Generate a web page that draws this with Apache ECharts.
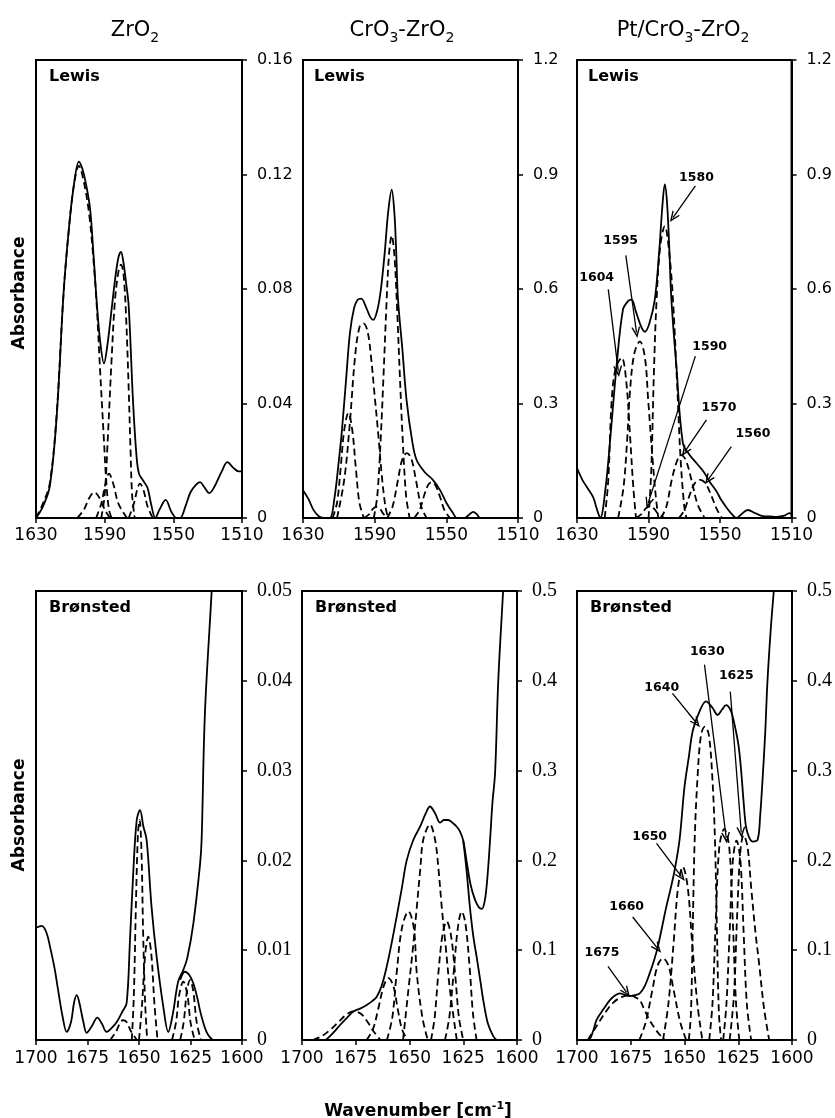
<!DOCTYPE html>
<html lang="en">
<head>
  <meta charset="UTF-8">
  <title>IR pyridine deconvolution</title>
  <script src="https://cdn.jsdelivr.net/npm/echarts@6/dist/echarts.min.js"></script>
</head>
<body style="margin:0;background:#fff">
  <div id="main" style="width:835px;height:1118px;"></div>
  <script type="text/javascript">
    // ---- data: [wavenumber, absorbance] ----
    // top row: Lewis band region
    const zrLewis = [[1630,0],[1626,0.004],[1622,0.011],[1618,0.035],[1614,0.078],[1611,0.1],[1608,0.116],[1605,0.1245],[1603,0.122],[1601,0.117],[1598.5,0.108],[1596.5,0.092],[1594.7,0.076],[1592.5,0.061],[1590.4,0.054],[1588.5,0.06],[1586.5,0.07],[1584,0.083],[1582,0.091],[1580.5,0.093],[1579,0.089],[1577.5,0.082],[1576,0.074],[1573.5,0.041],[1571.5,0.022],[1570,0.0155],[1567.5,0.013],[1565,0.0105],[1563,0.005],[1560.5,0],[1558,0.003],[1554.5,0.0063],[1551,0.002],[1548,0],[1546,0],[1543,0.004],[1540,0.009],[1537,0.0115],[1534.5,0.0125],[1532,0.0108],[1529,0.0087],[1526,0.011],[1522,0.016],[1518.5,0.0195],[1515,0.0175],[1512,0.0163],[1510,0.0163]]
    const zrLewisPeaks = [
      [[1630,0],[1626,0.005],[1622,0.012],[1618,0.036],[1614,0.078],[1611,0.1],[1608,0.116],[1605,0.123],[1602,0.117],[1599,0.106],[1596.5,0.09],[1594.7,0.075],[1592.7,0.052],[1590.5,0.028],[1589,0.012],[1587.5,0.003],[1586,0]],
      [[1592,0],[1590,0.008],[1588,0.03],[1586,0.055],[1584,0.076],[1582,0.086],[1580.5,0.0885],[1579,0.085],[1577.5,0.07],[1576,0.045],[1575,0.025],[1574,0.008],[1572.5,0]],
      [[1606,0],[1602,0.003],[1599,0.007],[1596,0.009],[1593,0.007],[1590,0.003],[1587,0]],
      [[1595,0],[1592,0.005],[1589.5,0.012],[1587.5,0.0155],[1585,0.012],[1582,0.005],[1577,0]],
      [[1576,0],[1573,0.005],[1571,0.01],[1569.5,0.012],[1567.5,0.01],[1565,0.004],[1562,0]]
    ]

    const crLewis = [[1630,0.073],[1627,0.05],[1624,0.02],[1621,0.004],[1618,0],[1615,0],[1612.5,0.05],[1610,0.15],[1608.4,0.223],[1606,0.36],[1603.8,0.485],[1601.5,0.55],[1599.5,0.572],[1597.5,0.575],[1594.6,0.55],[1592.5,0.527],[1590.8,0.519],[1588.5,0.545],[1586.5,0.6],[1584.3,0.7],[1582.5,0.8],[1580.5,0.86],[1579,0.8],[1578,0.7],[1577,0.575],[1574.5,0.44],[1572.2,0.309],[1569,0.2],[1566.6,0.152],[1562,0.12],[1557.5,0.1],[1553.5,0.073],[1550,0.04],[1546.3,0.013],[1544,0],[1540,0],[1537,0.01],[1535,0.016],[1533,0.01],[1531,0],[1510,0]]
    const crLewisPeaks = [
      [[1613.5,0],[1611,0.04],[1609,0.13],[1607,0.23],[1604.7,0.275],[1602.5,0.23],[1600.5,0.13],[1598.5,0.04],[1596,0]],
      [[1611,0],[1607,0.1],[1604,0.24],[1601,0.42],[1598.5,0.5],[1596.3,0.51],[1594,0.49],[1592,0.42],[1590,0.32],[1588,0.22],[1586,0.11],[1584,0.03],[1582.5,0]],
      [[1590.5,0],[1588.5,0.06],[1586.5,0.22],[1585,0.38],[1583.5,0.55],[1582,0.69],[1580.5,0.74],[1579,0.69],[1577.5,0.55],[1576,0.38],[1574.5,0.22],[1572.5,0.06],[1570.5,0]],
      [[1583,0],[1580,0.03],[1577,0.1],[1574.5,0.155],[1572,0.17],[1569.5,0.155],[1567,0.1],[1564,0.03],[1561,0]],
      [[1568,0],[1565,0.02],[1562,0.065],[1560,0.088],[1558.2,0.094],[1556,0.085],[1553.5,0.055],[1551,0.02],[1548,0]],
      [[1596,0],[1593,0.01],[1591,0.024],[1589,0.029],[1587,0.024],[1585,0.01],[1582,0]]
    ]

    const ptLewis = [[1630,0.131],[1627,0.1],[1624.6,0.082],[1621,0.055],[1619,0.025],[1617,0],[1614,0.08],[1611.6,0.197],[1607.9,0.397],[1604.3,0.546],[1601.5,0.568],[1599.5,0.572],[1597,0.54],[1594,0.5],[1592,0.488],[1589.5,0.51],[1586.5,0.572],[1584,0.7],[1582.2,0.82],[1580.9,0.874],[1579.7,0.83],[1578.5,0.72],[1577.2,0.572],[1574.4,0.397],[1570.8,0.197],[1567,0.165],[1563.2,0.144],[1559,0.12],[1555.8,0.095],[1552,0.07],[1549.3,0.047],[1546,0.025],[1543,0.008],[1541,0],[1538,0.01],[1534.5,0.021],[1530,0.012],[1526,0.005],[1522,0.004],[1518.4,0.003],[1514,0.006],[1511.3,0.013],[1510,0.01]]
    const ptLewisPeaks = [
      [[1614.5,0],[1612.5,0.1],[1610.7,0.3],[1608.5,0.39],[1605,0.42],[1602.5,0.36],[1600.4,0.22],[1598.5,0.08],[1597,0]],
      [[1607,0],[1604,0.08],[1602,0.2],[1600.4,0.33],[1598,0.43],[1594.8,0.463],[1592,0.42],[1590.2,0.31],[1588,0.17],[1586,0.06],[1584.5,0]],
      [[1590,0],[1588.5,0.12],[1587,0.38],[1585.5,0.57],[1583.5,0.71],[1580.9,0.765],[1578.5,0.7],[1576.3,0.57],[1574,0.35],[1572,0.15],[1570,0.03],[1568.8,0]],
      [[1597,0],[1594,0.01],[1591.5,0.025],[1589.3,0.03],[1587,0.025],[1584.5,0.01],[1581,0]],
      [[1583,0],[1580,0.03],[1577,0.1],[1574,0.15],[1571.6,0.165],[1569,0.15],[1566,0.1],[1562.5,0.035],[1558.5,0]],
      [[1573,0],[1570,0.02],[1567,0.06],[1564,0.092],[1561,0.1],[1558,0.09],[1555,0.06],[1552,0.025],[1549,0]]
    ]

    // bottom row: Brønsted band region (measured spectrum, fitted envelope tail, components)
    const zrBronsted = [[1700,0.0125],[1697.2,0.0127],[1695,0.012],[1693.2,0.0104],[1691,0.008],[1689.3,0.0056],[1687,0.0025],[1685.1,0.0009],[1683,0.002],[1681.5,0.0042],[1680.2,0.005],[1679,0.0042],[1677,0.002],[1675.4,0.0008],[1673,0.0015],[1670.2,0.0025],[1668,0.0018],[1665.7,0.0009],[1663,0.0014],[1660.8,0.002],[1658,0.0032],[1656,0.0041],[1654.4,0.011],[1652.8,0.0186],[1651.1,0.0245],[1649.5,0.0256],[1647.9,0.0238],[1646.3,0.0223],[1643.9,0.0148],[1641.4,0.0092],[1638.2,0.0037],[1635.8,0.0009],[1633.5,0.003],[1631,0.0065],[1628.5,0.0078],[1626.5,0.0092],[1623.6,0.013],[1620.4,0.0195],[1619.6,0.0223],[1618,0.0364],[1614.7,0.0501],[1613.5,0.056]]
    const zrBronstedFit = [[1630,0.0067],[1627.7,0.0076],[1625.5,0.0072],[1623.6,0.0063],[1621.5,0.0045],[1620.4,0.0033],[1618.5,0.0017],[1617,0.0008],[1615.5,0.0003],[1614,0]]
    const zrBronstedPeaks = [
      [[1653.5,0],[1652.5,0.005],[1651.5,0.015],[1650.5,0.023],[1649.7,0.0245],[1648.8,0.021],[1648,0.012],[1647,0.004],[1646,0]],
      [[1650,0],[1648.5,0.004],[1647,0.0095],[1645.5,0.0115],[1644,0.0095],[1642.5,0.004],[1641,0]],
      [[1664,0],[1661,0.001],[1659,0.002],[1657.8,0.0022],[1656,0.002],[1654,0.001],[1651,0]],
      [[1634,0],[1632,0.002],[1630.5,0.005],[1628.5,0.0065],[1626.5,0.005],[1625,0.002],[1623,0]],
      [[1630,0],[1628.3,0.002],[1626.7,0.0055],[1625.2,0.0067],[1623.7,0.0055],[1622,0.002],[1620,0]]
    ]

    const crBronsted = [[1700,0],[1690,0],[1688.5,0.001],[1685.5,0.008],[1682.3,0.0167],[1679,0.025],[1676.1,0.0316],[1673,0.035],[1669.9,0.039],[1667.5,0.043],[1665.3,0.048],[1663,0.06],[1660.6,0.0817],[1658.3,0.108],[1656,0.137],[1653.5,0.17],[1651.3,0.2],[1648.2,0.223],[1645.1,0.2375],[1642.5,0.252],[1640.5,0.26],[1638,0.252],[1635.8,0.242],[1634,0.245],[1632,0.245],[1630,0.242],[1628,0.2375],[1626.5,0.232],[1625,0.222],[1623.5,0.2],[1621.5,0.172],[1619.5,0.156],[1617.8,0.148],[1616.4,0.146],[1615,0.155],[1613.8,0.18],[1612.6,0.22],[1611.4,0.265],[1610.2,0.297],[1608.7,0.401],[1606.4,0.503],[1605.5,0.55]]
    const crBronstedFit = [[1625,0.222],[1623.5,0.19],[1621.9,0.148],[1620.3,0.115],[1618.8,0.093],[1617,0.065],[1615.7,0.0445],[1613.5,0.018],[1611,0.004],[1609.5,0]]
    const crBronstedPeaks = [
      [[1695,0],[1691,0.004],[1687,0.011],[1683,0.02],[1679.5,0.028],[1676,0.032],[1672.5,0.029],[1669.5,0.02],[1666.5,0.009],[1663.5,0]],
      [[1670,0],[1667,0.012],[1664.5,0.035],[1662,0.06],[1659.8,0.069],[1657.5,0.06],[1655.5,0.035],[1653.5,0.012],[1651,0]],
      [[1660.5,0],[1658,0.025],[1656,0.074],[1653.5,0.125],[1650.5,0.143],[1648,0.125],[1646.6,0.074],[1644,0.025],[1641.5,0]],
      [[1653,0],[1650.5,0.056],[1648.5,0.1],[1646.6,0.148],[1645,0.19],[1643.6,0.223],[1640.5,0.24],[1638.1,0.223],[1636.5,0.19],[1635,0.148],[1633,0.1],[1631.2,0.056],[1628,0]],
      [[1640,0],[1638.3,0.025],[1636.6,0.074],[1634.6,0.118],[1632.7,0.132],[1630.8,0.118],[1628.8,0.074],[1627,0.025],[1625,0]],
      [[1633.5,0],[1631.5,0.025],[1629.5,0.074],[1627.5,0.125],[1625.7,0.143],[1624,0.13],[1622,0.08],[1620.5,0.03],[1618.8,0]]
    ]

    const ptBronsted = [[1700,0],[1694.8,0],[1692.5,0.01],[1690.9,0.0223],[1687.5,0.035],[1684.7,0.0445],[1682,0.05],[1680.1,0.052],[1677.5,0.05],[1675.5,0.049],[1673,0.05],[1670.8,0.052],[1668.5,0.06],[1666.2,0.0742],[1664,0.09],[1662.4,0.104],[1660.5,0.125],[1658.5,0.148],[1656.5,0.168],[1654.6,0.189],[1652.3,0.223],[1650,0.282],[1648,0.315],[1646.1,0.345],[1643,0.366],[1640,0.377],[1637,0.37],[1634.6,0.362],[1632.5,0.368],[1630.7,0.373],[1628.5,0.367],[1626.9,0.353],[1625,0.33],[1623.8,0.304],[1622.5,0.265],[1621.4,0.2375],[1620,0.226],[1618.4,0.221],[1616,0.223],[1614.8,0.25],[1613.7,0.29],[1612.5,0.34],[1611.4,0.4],[1609.8,0.46],[1608.3,0.505],[1607.5,0.53]]
    const ptBronstedPeaks = [
      [[1695,0],[1691,0.015],[1687,0.03],[1683,0.042],[1679,0.048],[1675,0.05],[1672.5,0.047],[1670.8,0.0445],[1668.5,0.033],[1666.2,0.022],[1663.8,0.013],[1661.6,0.006],[1659,0]],
      [[1671,0],[1668,0.02],[1665,0.055],[1662.5,0.083],[1660,0.091],[1657.5,0.083],[1655,0.055],[1652,0.02],[1649.2,0]],
      [[1660,0],[1657.5,0.04],[1655,0.11],[1653,0.17],[1650.8,0.193],[1648.5,0.17],[1646.5,0.11],[1644,0.04],[1641.7,0]],
      [[1648,0],[1647,0.03],[1646.2,0.12],[1645.3,0.22],[1644,0.29],[1642.3,0.34],[1640.5,0.349],[1638.7,0.34],[1637,0.29],[1635.8,0.22],[1634.9,0.12],[1634,0.03],[1633,0]],
      [[1638.5,0],[1637,0.04],[1635.5,0.13],[1633.8,0.215],[1631.5,0.235],[1629.2,0.215],[1627.5,0.13],[1626,0.04],[1624.5,0]],
      [[1632,0],[1630.5,0.04],[1629,0.12],[1627.5,0.2],[1625.8,0.222],[1624,0.2],[1622.5,0.12],[1621,0.04],[1619,0]],
      [[1629,0],[1627,0.05],[1625.5,0.14],[1624,0.21],[1622.5,0.228],[1620.7,0.215],[1619,0.17],[1617,0.12],[1615.3,0.085],[1613,0.035],[1610.6,0]]
    ]

    // peak labels [text, wavenumber, absorbance] and arrows [from wn, from abs, to wn, to abs]
    const ptLewisNotes = [['1580',1563.2,0.892],['1595',1605.6,0.726],['1604',1619,0.629],['1590',1555.8,0.45],['1570',1550.6,0.288],['1560',1531.6,0.222]]
    const ptLewisArrows = [[1563.8,0.87,1576.3,0.787],[1602.7,0.688,1596.7,0.486],[1612.5,0.599,1606.9,0.384],[1563.8,0.424,1590.2,0.039],[1557.6,0.257,1569.7,0.174],[1543.7,0.187,1556.7,0.1]]
    const ptBronstedNotes = [['1630',1639.4,0.432],['1625',1625.9,0.406],['1640',1660.6,0.392],['1650',1666.2,0.226],['1660',1676.9,0.148],['1675',1688.4,0.097]]
    const ptBronstedArrows = [[1640.7,0.418,1630.6,0.225],[1628.7,0.388,1623.6,0.231],[1655.6,0.386,1644.4,0.353],[1663,0.219,1651.4,0.182],[1674.1,0.137,1662.5,0.102],[1685.6,0.082,1676.9,0.053]]

    const lewisTicks = [1630, 1590, 1550, 1510]
    const yMax = [0.16, 1.2, 1.2, 0.05, 0.5, 0.5]
    const yStep = [0.04, 0.3, 0.3, 0.01, 0.1, 0.1]

    const SANS = 'DejaVu Sans'
    const SERIF = 'Liberation Serif'
    const arrowHead = 'path://M5,0L10,12L8.4,12L5,4.2L1.6,12L0,12Z'

    var myChart = echarts.init(document.getElementById('main'))

    const grids = [
      { left: 36, top: 60, width: 206, height: 458 },
      { left: 303, top: 60, width: 215, height: 458 },
      { left: 577, top: 60, width: 215, height: 458 },
      { left: 36, top: 591, width: 206, height: 449 },
      { left: 302, top: 591, width: 215, height: 449 },
      { left: 577, top: 591, width: 216, height: 449 }
    ].map(g => Object.assign(g, { show: true, borderColor: '#000', borderWidth: 2, backgroundColor: 'transparent' }))

    const xAxes = grids.map((g, i) => {
      const top = i < 3
      const ax = {
        type: 'value', gridIndex: i, inverse: true,
        min: top ? 1510 : 1600, max: top ? 1630 : 1700,
        axisLine: { show: true, lineStyle: { color: '#000', width: 2 } },
        axisTick: { show: true, length: 5, lineStyle: { color: '#000', width: 1.5 } },
        axisLabel: { color: '#000', fontFamily: SANS, fontSize: 17, margin: top ? 9 : 10,
          showMinLabel: true, showMaxLabel: true, formatter: v => String(v) },
        splitLine: { show: false }
      }
      if (top) {
        ax.axisLabel.customValues = lewisTicks
        ax.axisTick.customValues = lewisTicks
      } else {
        ax.interval = 25
      }
      return ax
    })

    const yAxes = grids.map((g, i) => ({
      type: 'value', gridIndex: i, position: 'right',
      min: 0, max: yMax[i], interval: yStep[i],
      axisLine: { show: true, lineStyle: { color: '#000', width: 2 } },
      axisTick: { show: true, length: 5, lineStyle: { color: '#000', width: 1.5 } },
      axisLabel: i < 3
        ? { color: '#000', fontFamily: SANS, fontSize: 16, margin: 15 }
        : { color: '#000', fontFamily: SERIF, fontSize: 20, margin: 15 },
      splitLine: { show: false }
    }))

    function solid(data, i) {
      return {
        type: 'line', xAxisIndex: i, yAxisIndex: i, data: data,
        smooth: 0.35, symbol: 'none', silent: true, z: 4,
        lineStyle: { color: '#000', width: 1.8 }
      }
    }
    function dashed(data, i) {
      return {
        type: 'line', xAxisIndex: i, yAxisIndex: i, data: data,
        smooth: 0.35, symbol: 'none', silent: true, z: 3,
        lineStyle: { color: '#000', width: 1.8, type: [7, 4] }
      }
    }
    function notes(labels, arrows, i) {
      return {
        type: 'scatter', xAxisIndex: i, yAxisIndex: i, silent: true, z: 5,
        symbol: 'circle', symbolSize: 1, itemStyle: { color: 'rgba(0,0,0,0)', opacity: 1 },
        data: labels.map(l => ({ name: l[0], value: [l[1], l[2]] })),
        label: { show: true, position: 'inside', formatter: '{b}', color: '#000', opacity: 1,
          fontFamily: SANS, fontSize: 12.5, fontWeight: 'bold', textBorderWidth: 0 },
        markLine: {
          silent: true, animation: false,
          symbol: ['none', arrowHead], symbolSize: [9, 11],
          label: { show: false },
          lineStyle: { color: '#000', width: 1.3, type: 'solid', opacity: 1 },
          data: arrows.map(a => [{ coord: [a[0], a[1]] }, { coord: [a[2], a[3]] }])
        }
      }
    }

    const series = []
    const panels = [
      [zrLewis, null, zrLewisPeaks],
      [crLewis, null, crLewisPeaks],
      [ptLewis, null, ptLewisPeaks],
      [zrBronsted, zrBronstedFit, zrBronstedPeaks],
      [crBronsted, crBronstedFit, crBronstedPeaks],
      [ptBronsted, null, ptBronstedPeaks]
    ]
    panels.forEach((p, i) => {
      p[2].forEach(pk => series.push(dashed(pk, i)))
      series.push(solid(p[0], i))
      if (p[1]) series.push(solid(p[1], i))
    })
    series.push(notes(ptLewisNotes, ptLewisArrows, 2))
    series.push(notes(ptBronstedNotes, ptBronstedArrows, 5))

    const titleFont = { fontFamily: SANS, fontSize: 21, fontWeight: 'normal', color: '#000',
      rich: { s: { fontFamily: SANS, fontSize: 14, color: '#000', padding: [14, 0, 0, 0] } } }
    const tagFont = { fontFamily: SANS, fontSize: 16, fontWeight: 'bold', color: '#000' }

    const option = {
      animation: false,
      backgroundColor: '#fff',
      title: [
        { text: 'ZrO{s|2}', left: 130, top: 12, textAlign: 'center', textStyle: titleFont },
        { text: 'CrO{s|3}-ZrO{s|2}', left: 397, top: 12, textAlign: 'center', textStyle: titleFont },
        { text: 'Pt/CrO{s|3}-ZrO{s|2}', left: 678, top: 12, textAlign: 'center', textStyle: titleFont },
        { text: 'Lewis', left: 44, top: 64, textStyle: tagFont },
        { text: 'Lewis', left: 309, top: 64, textStyle: tagFont },
        { text: 'Lewis', left: 583, top: 64, textStyle: tagFont },
        { text: 'Brønsted', left: 44, top: 595, textStyle: tagFont },
        { text: 'Brønsted', left: 310, top: 595, textStyle: tagFont },
        { text: 'Brønsted', left: 585, top: 595, textStyle: tagFont },
        { text: 'Wavenumber [cm{p|-1}]', left: 413, top: 1096, textAlign: 'center',
          textStyle: { fontFamily: SANS, fontSize: 17, fontWeight: 'bold', color: '#000',
            rich: { p: { fontFamily: SANS, fontSize: 11, fontWeight: 'bold', color: '#000', padding: [0, 0, 10, 0] } } } }
      ],
      graphic: [
        { type: 'text', x: 20, y: 293, rotation: Math.PI / 2, silent: true,
          style: { text: 'Absorbance', font: 'bold 17px "DejaVu Sans"', fill: '#000', textAlign: 'center', textVerticalAlign: 'middle', verticalAlign: 'middle' } },
        { type: 'text', x: 20, y: 815, rotation: Math.PI / 2, silent: true,
          style: { text: 'Absorbance', font: 'bold 17px "DejaVu Sans"', fill: '#000', textAlign: 'center', textVerticalAlign: 'middle', verticalAlign: 'middle' } }
      ],
      grid: grids,
      xAxis: xAxes,
      yAxis: yAxes,
      series: series
    }

    myChart.setOption(option)
  </script>
</body>
</html>
